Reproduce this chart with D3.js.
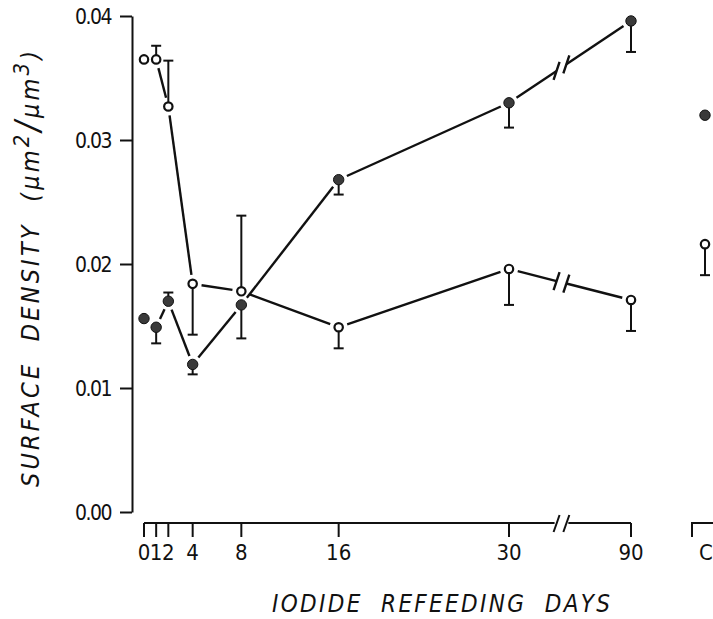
<!DOCTYPE html>
<html>
<head>
<meta charset="utf-8">
<script src="https://cdn.jsdelivr.net/npm/d3@7"></script>
<style>
  body { margin: 0; background: #fff; }
  svg { display: block; }
  text { font-family: 'DejaVu Sans Condensed', 'DejaVu Sans', sans-serif; fill: #111; }
</style>
</head>
<body>
<svg id="chart"></svg>
<script>
// days of iodide refeeding shown on the x axis
const days = [0, 1, 2, 4, 8, 16, 30, 90]
const dayLabels = ['0', '1', '2', '4', '8', '16', '30', '90']
const yTicks = [0, 0.01, 0.02, 0.03, 0.04]
const yTickLabels = ['0.00', '0.01', '0.02', '0.03', '0.04']

// filled circles: mean and the end of the (one sided) error bar
const filledMean = [0.0156, 0.0149, 0.0170, 0.0119, 0.0167, 0.0268, 0.0330, 0.0396]
const filledBar = [null, 0.0136, 0.0177, 0.0111, 0.0140, 0.0256, 0.0310, 0.0371]

// open circles
const openMean = [0.0365, 0.0365, 0.0327, 0.0184, 0.0178, 0.0149, 0.0196, 0.0171]
const openBar = [null, 0.0376, 0.0364, 0.0143, 0.0239, 0.0132, 0.0167, 0.0146]

// control group
const controlLabel = 'C'
const controlFilled = 0.0320
const controlOpen = 0.0216
const controlOpenBar = 0.0191

const fullWidth = 713
const fullHeight = 619
const svg = d3.select('#chart')
  .attr('width', fullWidth)
  .attr('height', fullHeight)

// scales: linear up to 30 days, then squeezed after the axis break
const x = d3.scaleLinear()
  .domain([0, 30, 90])
  .range([144, 509, 631])
const y = d3.scaleLinear()
  .domain([0, 0.04])
  .range([512, 16])
const xC = x(90) + 74
const breakAt = [0.39, 0.47] // fraction of the 30 -> 90 span where the break sits
const xb1 = x(30) + breakAt[0] * (x(90) - x(30))
const xb2 = x(30) + breakAt[1] * (x(90) - x(30))

const ink = '#111'
const lineW = 2.4

// y axis
const yAxis = d3.axisLeft(y)
  .tickValues(yTicks)
  .tickFormat((d, i) => yTickLabels[i])
  .tickSize(12)
  .tickSizeOuter(0)
const yAxisEle = svg.append('g')
  .attr('transform', 'translate(132,0)')
  .call(yAxis)
yAxisEle.select('.domain').attr('stroke', ink).attr('stroke-width', 2)
yAxisEle.selectAll('.tick line').attr('stroke', ink).attr('stroke-width', 2)
yAxisEle.selectAll('.tick text')
  .attr('x', -21)
  .attr('dy', '0.36em')
  .style('font-size', '21px')
  .style('letter-spacing', '-1.5px')
  .attr('fill', ink)

// x axis, drawn by hand because of the break
const axisY = 523
const xAxisEle = svg.append('g')
xAxisEle.append('path')
  .attr('d', `M${x(0)},${axisY}H${xb1 - 2}M${xb2 + 2},${axisY}H${x(90)}`)
  .attr('stroke', ink).attr('stroke-width', 2).attr('fill', 'none')
;[xb1, xb2].forEach(bx => {
  xAxisEle.append('line')
    .attr('x1', bx - 3).attr('y1', axisY + 9)
    .attr('x2', bx + 3).attr('y2', axisY - 8)
    .attr('stroke', ink).attr('stroke-width', 2)
})
const xTicks = xAxisEle.selectAll('g.xtick')
  .data(days)
  .enter().append('g')
  .attr('class', 'xtick')
  .attr('transform', d => `translate(${x(d)},${axisY})`)
xTicks.append('line')
  .attr('y1', 0).attr('y2', 14)
  .attr('stroke', ink).attr('stroke-width', 2)
xTicks.append('text')
  .attr('y', 37)
  .attr('text-anchor', 'middle')
  .style('font-size', '22px')
  .text((d, i) => dayLabels[i])

// control bracket
xAxisEle.append('path')
  .attr('d', `M${xC - 13},${axisY + 14}V${axisY}H${xC + 30}`)
  .attr('stroke', ink).attr('stroke-width', 2).attr('fill', 'none')
xAxisEle.append('text')
  .attr('x', xC + 1).attr('y', axisY + 37)
  .attr('text-anchor', 'middle')
  .style('font-size', '22px')
  .text(controlLabel)

// axis titles, stretched to the width of the lettering in the original
function fitText(sel, target) {
  const n = sel.text().length
  const len = sel.node().getComputedTextLength()
  sel.style('letter-spacing', ((target - len) / (n - 1)) + 'px')
}

const xTitle = svg.append('text')
  .attr('x', 272).attr('y', 612)
  .style('font-size', '24px')
  .style('font-style', 'italic')
  .style('white-space', 'pre')
  .text('IODIDE  REFEEDING  DAYS')
fitText(xTitle, 338)

const yTitle = svg.append('text')
  .attr('transform', 'translate(39,487) rotate(-90)')
  .style('font-size', '25px')
  .style('font-style', 'italic')
  .style('white-space', 'pre')
yTitle.append('tspan').text('SURFACE  DENSITY  (\u03bcm')
yTitle.append('tspan').attr('dy', -10).style('font-size', '22px').text('2')
yTitle.append('tspan').attr('dy', 10).style('font-size', '34px').text('/')
yTitle.append('tspan').text('\u03bcm')
yTitle.append('tspan').attr('dy', -10).style('font-size', '22px').text('3')
yTitle.append('tspan').attr('dy', 10).text(')')
fitText(yTitle, 436)

// points for each series
const filledPts = days.map((d, i) => ({ x: x(d), y: y(filledMean[i]), bar: filledBar[i] }))
const openPts = days.map((d, i) => ({ x: x(d), y: y(openMean[i]), bar: openBar[i] }))

// connecting lines stop short of the markers
const gap = 9
function segment(p1, p2, g1, g2) {
  const dx = p2.x - p1.x, dy = p2.y - p1.y
  const len = Math.sqrt(dx * dx + dy * dy)
  if (len <= g1 + g2) return null
  return [
    [p1.x + dx * g1 / len, p1.y + dy * g1 / len],
    [p2.x - dx * g2 / len, p2.y - dy * g2 / len]
  ]
}

const lineHolder = svg.append('g').attr('stroke', ink).attr('stroke-width', lineW).attr('fill', 'none')
function drawSeries(pts) {
  for (let i = 0; i < pts.length - 1; i++) {
    const p1 = pts[i], p2 = pts[i + 1]
    if (i === pts.length - 2) {
      // the 30 -> 90 span carries the break
      const yAt = xx => p1.y + (p2.y - p1.y) * (xx - p1.x) / (p2.x - p1.x)
      const a = segment(p1, { x: xb1, y: yAt(xb1) }, gap, 0)
      const b = segment({ x: xb2, y: yAt(xb2) }, p2, 0, gap)
      ;[a, b].forEach(s => s && lineHolder.append('path').attr('d', d3.line()(s)))
      ;[xb1, xb2].forEach(bx => {
        lineHolder.append('line')
          .attr('x1', bx - 3).attr('y1', yAt(bx) + 9)
          .attr('x2', bx + 3).attr('y2', yAt(bx) - 9)
      })
    } else {
      const s = segment(p1, p2, gap, gap)
      if (s) lineHolder.append('path').attr('d', d3.line()(s))
    }
  }
}
drawSeries(filledPts)
drawSeries(openPts)

// error bars
const barHolder = svg.append('g').attr('stroke', ink).attr('stroke-width', 2)
const allBars = filledPts.concat(openPts)
  .concat([{ x: xC, y: y(controlOpen), bar: controlOpenBar }])
  .filter(p => p.bar !== null)
barHolder.selectAll('line.err')
  .data(allBars)
  .enter().append('line')
  .attr('class', 'err')
  .attr('x1', d => d.x).attr('x2', d => d.x)
  .attr('y1', d => d.y)
  .attr('y2', d => y(d.bar))
barHolder.selectAll('line.cap')
  .data(allBars)
  .enter().append('line')
  .attr('class', 'cap')
  .attr('x1', d => d.x - 5).attr('x2', d => d.x + 5)
  .attr('y1', d => y(d.bar)).attr('y2', d => y(d.bar))

// markers
const markHolder = svg.append('g')
markHolder.selectAll('circle.filled')
  .data(filledPts.concat([{ x: xC, y: y(controlFilled) }]))
  .enter().append('circle')
  .attr('class', 'filled')
  .attr('cx', d => d.x).attr('cy', d => d.y)
  .attr('r', 5.2)
  .attr('fill', '#3a3a3a')
  .attr('stroke', ink).attr('stroke-width', 1)
markHolder.selectAll('circle.open')
  .data(openPts.concat([{ x: xC, y: y(controlOpen) }]))
  .enter().append('circle')
  .attr('class', 'open')
  .attr('cx', d => d.x).attr('cy', d => d.y)
  .attr('r', 4.2)
  .attr('fill', '#fff')
  .attr('stroke', ink).attr('stroke-width', 2.2)
</script>
</body>
</html>
